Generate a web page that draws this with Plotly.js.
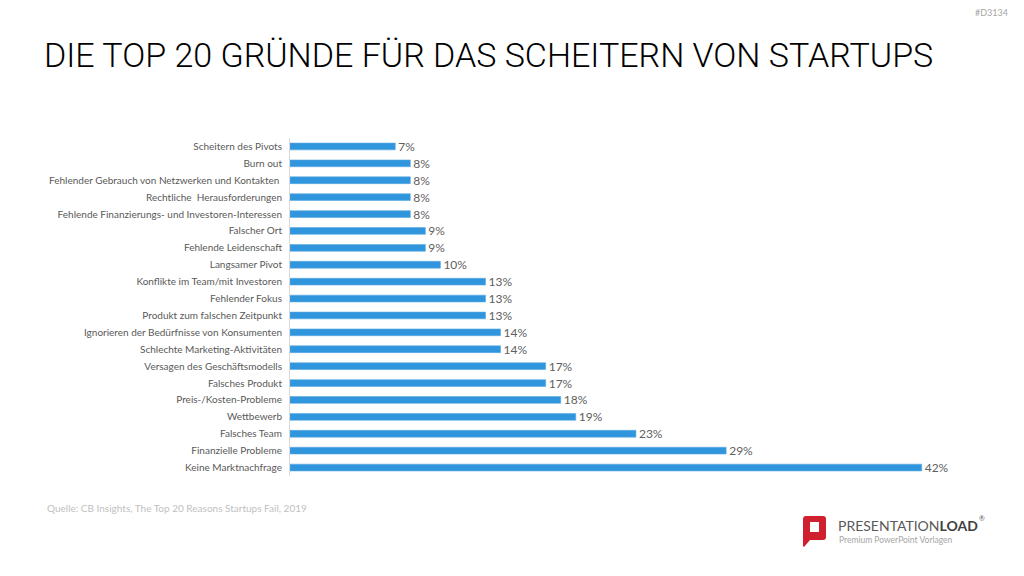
<!DOCTYPE html>
<html>
<head>
<meta charset="utf-8">
<script src="https://cdn.plot.ly/plotly-3.0.1.min.js"></script>
<style>html,body{margin:0;padding:0;background:#fff;}#chart{width:1024px;height:576px;}</style>
</head>
<body>
<div id="chart"></div>
<script>
// Data (top to bottom as displayed)
const categories = [
  "Scheitern des Pivots",
  "Burn out",
  "Fehlender Gebrauch von Netzwerken und Kontakten ",
  "Rechtliche  Herausforderungen",
  "Fehlende Finanzierungs- und Investoren-Interessen",
  "Falscher Ort",
  "Fehlende Leidenschaft",
  "Langsamer Pivot",
  "Konflikte im Team/mit Investoren",
  "Fehlender Fokus",
  "Produkt zum falschen Zeitpunkt",
  "Ignorieren der Bedürfnisse von Konsumenten",
  "Schlechte Marketing-Aktivitäten",
  "Versagen des Geschäftsmodells",
  "Falsches Produkt",
  "Preis-/Kosten-Probleme",
  "Wettbewerb",
  "Falsches Team",
  "Finanzielle Probleme",
  "Keine Marktnachfrage"
];
const values = [7, 8, 8, 8, 8, 9, 9, 10, 13, 13, 13, 14, 14, 17, 17, 18, 19, 23, 29, 42];

const titleText = "DIE TOP 20 GRÜNDE FÜR DAS SCHEITERN VON STARTUPS";
const sourceText = "Quelle: CB Insights, The Top 20 Reasons Startups Fail, 2019";
const codeText = "#D3134";

// Layout geometry (pixels)
const W = 1024, H = 576;
const mL = 290, mT = 138, mB = 100, mR = 54;
const pw = W - mL - mR, ph = H - mT - mB;
const px = x => (x - mL) / pw;
const py = y => (H - mB - y) / ph;

const trace = {
  type: 'bar',
  orientation: 'h',
  y: categories,
  x: values,
  marker: {color: '#2F95DC', line: {color: '#5AAAE3', width: 0.6}},
  texttemplate: '%{x}%',
  textposition: 'outside',
  constraintext: 'none',
  textfont: {family: 'Lato, "Open Sans", sans-serif', size: 12, color: '#606060'},
  cliponaxis: false,
  hoverinfo: 'skip'
};

const iconPath = [
  `M ${px(803)},${py(519)}`,
  `Q ${px(803)},${py(516)} ${px(806)},${py(516)}`,
  `L ${px(823)},${py(516)}`,
  `Q ${px(826)},${py(516)} ${px(826)},${py(519)}`,
  `L ${px(826)},${py(537)}`,
  `Q ${px(826)},${py(540)} ${px(823)},${py(540)}`,
  `L ${px(810)},${py(540)}`,
  `L ${px(804)},${py(547)}`,
  `L ${px(803)},${py(546)}`,
  'Z'
].join(' ');

const layout = {
  width: W, height: H,
  margin: {l: mL, r: mR, t: mT, b: mB, pad: 0},
  paper_bgcolor: '#ffffff',
  plot_bgcolor: '#ffffff',
  showlegend: false,
  bargap: 0.6,
  font: {family: 'Lato, "Open Sans", sans-serif', color: '#595959'},
  title: {
    text: titleText,
    x: 44 / W, xref: 'container', xanchor: 'left',
    y: 1 - 55 / H, yref: 'container', yanchor: 'middle',
    font: {family: 'Roboto, sans-serif', size: 34, weight: 300, color: '#000000'}
  },
  xaxis: {
    range: [0, pw / 15.04],
    visible: false,
    showgrid: false,
    zeroline: false,
    fixedrange: true
  },
  yaxis: {
    type: 'category',
    autorange: 'reversed',
    showline: true,
    linecolor: '#D9D9D9',
    linewidth: 1,
    ticks: '',
    showgrid: false,
    zeroline: false,
    ticklabelstandoff: 5,
    tickfont: {family: 'Lato, "Open Sans", sans-serif', size: 10, color: '#595959'},
    fixedrange: true
  },
  annotations: [
    {text: sourceText, xref: 'paper', yref: 'paper', x: px(45), y: py(508),
     xanchor: 'left', yanchor: 'middle', showarrow: false,
     font: {family: 'Lato, "Open Sans", sans-serif', size: 10, color: '#BFBFBF'}},
    {text: codeText, xref: 'paper', yref: 'paper', x: px(1010), y: py(12),
     xanchor: 'right', yanchor: 'middle', showarrow: false,
     font: {family: 'Lato, sans-serif', size: 9, color: '#A6A6A6'}},
    {text: 'PRESENTATION<b style="color:#404040">LOAD</b>', xref: 'paper', yref: 'paper', x: px(836), y: py(525),
     xanchor: 'left', yanchor: 'middle', showarrow: false,
     font: {family: 'Lato, sans-serif', size: 14, color: '#595959'}},
    {text: '®', xref: 'paper', yref: 'paper', x: px(977), y: py(518),
     xanchor: 'left', yanchor: 'middle', showarrow: false,
     font: {family: 'Lato, sans-serif', size: 7, color: '#595959'}},
    {text: 'Premium PowerPoint Vorlagen', xref: 'paper', yref: 'paper', x: px(837), y: py(540),
     xanchor: 'left', yanchor: 'middle', showarrow: false,
     font: {family: 'Lato, "Open Sans", sans-serif', size: 8.5, color: '#A6A6A6'}}
  ],
  shapes: [
    {type: 'path', xref: 'paper', yref: 'paper', path: iconPath,
     fillcolor: '#D0202E', line: {width: 0}},
    {type: 'rect', xref: 'paper', yref: 'paper', x0: px(810), x1: px(819), y0: py(532), y1: py(522),
     fillcolor: '#ffffff', line: {width: 0}}
  ]
};

Plotly.newPlot('chart', [trace], layout, {displayModeBar: false, staticPlot: true});
</script>
</body>
</html>
